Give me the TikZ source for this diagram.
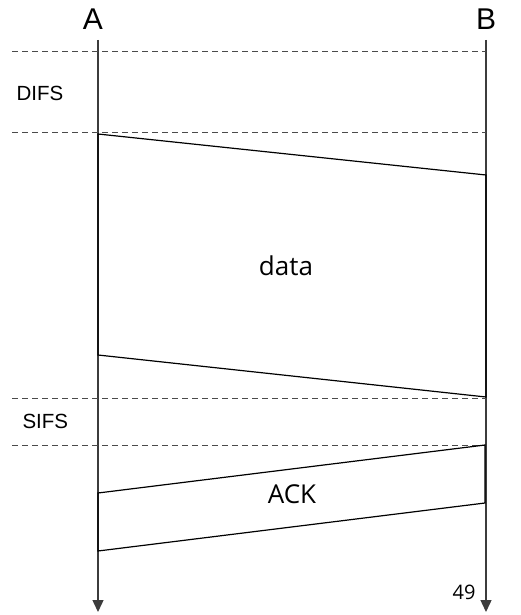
\documentclass[tikz,border=0pt]{standalone}
\usepackage{fontspec}
\setmainfont{Liberation Sans}
\newfontfamily\framefont{Open Sans}
\usetikzlibrary{arrows.meta}
\definecolor{axisGray}{HTML}{3C3C3C}
\definecolor{gapGray}{HTML}{4A4A4A}

\tikzset{
  station/.style={anchor=base,font=\fontsize{30}{30}\selectfont},
  gaplabel/.style={anchor=base west,font=\fontsize{20.5}{20.5}\selectfont},
  framelabel/.style={anchor=base,font=\framefont\fontsize{26}{26}\selectfont},
  timeline/.style={axisGray,line width=1.4pt,-{Triangle[width=11pt,length=12pt]}},
  gapline/.style={gapGray,line width=1pt,dash pattern=on 6pt off 4pt},
  frame/.style={black,line width=1.2pt,line join=miter}
}

\begin{document}
\begin{tikzpicture}[x=1pt,y=-1pt]
  \useasboundingbox (0,0) rectangle (520,615);
  % stations and time lines
  \node[station] (A) at (93,30) {A};
  \node[station] (B) at (486,30) {B};
  \coordinate (Atop) at (98,40);
  \coordinate (Aend) at (98,612);
  \coordinate (Btop) at (486,40);
  \coordinate (Bend) at (486,612);
  \draw[timeline] (Atop) -- (Aend);
  \draw[timeline] (Btop) -- (Bend);
  % interframe spaces
  \foreach \y/\n in {52/d1,132/d2,398/s1,445/s2} {
    \coordinate (\n l) at (12,\y);
    \coordinate (\n r) at (486,\y);
    \draw[gapline] (\n l) -- (\n r);
  }
  \node[gaplabel] (difs) at (13,101) {DIFS};
  \node[gaplabel] (sifs) at (19,428) {SIFS};
  % data frame
  \draw[frame] (98,134) -- (486,175) -- (486,397) -- (98,355) -- cycle;
  \node[framelabel] (data) at (286,275) {data};
  % ack frame
  \draw[frame] (98,493) -- (485,445) -- (485,503) -- (98,551) -- cycle;
  \node[framelabel] (ack) at (292,503) {ACK};
  \node[anchor=base east,font=\framefont\fontsize{20}{20}\selectfont] (num) at (479,599) {49};
\end{tikzpicture}
\end{document}
